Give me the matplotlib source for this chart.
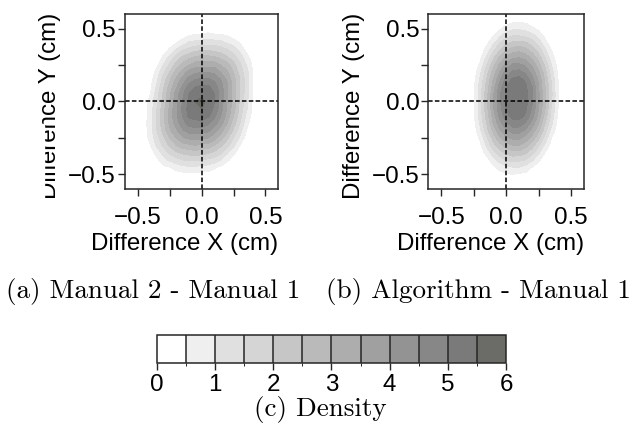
import numpy as np
import matplotlib
matplotlib.use("Agg")
import matplotlib.pyplot as plt
from matplotlib.colors import ListedColormap, BoundaryNorm
from matplotlib.patches import Rectangle

# grid of the density estimates (cm)
grid_x = [-0.45, -0.4, -0.35, -0.3, -0.25, -0.2, -0.15, -0.1, -0.05, 0.0,
          0.05, 0.1, 0.15, 0.2, 0.25, 0.3, 0.35, 0.4, 0.45, 0.5]
grid_y = [-0.6, -0.55, -0.5, -0.45, -0.4, -0.35, -0.3, -0.25, -0.2, -0.15, -0.1, -0.05,
          0.0, 0.05, 0.1, 0.15, 0.2, 0.25, 0.3, 0.35, 0.4, 0.45, 0.5, 0.55, 0.6]

# density x10, one row per grid_y value
dens_a = [
    [0, 0, 0, 0, 0, 0, 0, 0, 0, 0, 0, 0, 0, 0, 0, 0, 0, 0, 0, 0],
    [0, 0, 0, 0, 0, 1, 1, 1, 1, 1, 0, 0, 0, 0, 0, 0, 0, 0, 0, 0],
    [0, 0, 0, 1, 2, 3, 3, 4, 4, 3, 3, 2, 1, 0, 0, 0, 0, 0, 0, 0],
    [0, 0, 2, 4, 5, 7, 9, 9, 9, 9, 8, 6, 4, 2, 1, 0, 0, 0, 0, 0],
    [0, 1, 4, 8, 11, 13, 15, 16, 16, 15, 14, 13, 10, 6, 3, 1, 0, 0, 0, 0],
    [1, 3, 7, 12, 16, 19, 21, 22, 23, 22, 21, 19, 16, 11, 6, 3, 1, 0, 0, 0],
    [1, 5, 11, 16, 21, 25, 28, 29, 30, 29, 28, 25, 21, 17, 11, 5, 1, 0, 0, 0],
    [2, 7, 13, 19, 25, 30, 34, 36, 36, 36, 35, 32, 27, 21, 15, 9, 3, 1, 0, 0],
    [2, 8, 15, 22, 29, 34, 39, 42, 43, 42, 41, 37, 32, 26, 19, 12, 5, 1, 0, 0],
    [3, 8, 16, 23, 31, 37, 43, 47, 48, 48, 46, 42, 37, 30, 22, 15, 7, 2, 0, 0],
    [2, 8, 16, 24, 32, 39, 45, 51, 52, 53, 51, 46, 40, 33, 25, 17, 9, 3, 0, 0],
    [2, 7, 15, 23, 31, 39, 46, 52, 54, 55, 53, 49, 42, 34, 27, 18, 11, 4, 1, 0],
    [2, 7, 14, 22, 30, 38, 45, 51, 55, 56, 54, 50, 43, 35, 28, 19, 12, 4, 1, 0],
    [1, 5, 13, 21, 29, 37, 44, 50, 54, 54, 53, 50, 43, 36, 28, 20, 12, 5, 1, 0],
    [1, 4, 11, 19, 27, 34, 41, 47, 50, 51, 51, 48, 42, 36, 28, 20, 13, 5, 1, 0],
    [0, 3, 9, 17, 24, 31, 37, 42, 45, 46, 46, 44, 40, 34, 27, 20, 13, 5, 1, 0],
    [0, 2, 7, 14, 20, 27, 32, 37, 39, 40, 40, 39, 35, 31, 25, 18, 12, 5, 1, 0],
    [0, 1, 4, 10, 16, 22, 27, 30, 33, 33, 33, 33, 30, 27, 22, 16, 10, 4, 1, 0],
    [0, 0, 2, 6, 12, 17, 21, 24, 26, 27, 27, 26, 24, 21, 17, 13, 7, 3, 0, 0],
    [0, 0, 1, 3, 6, 11, 15, 17, 19, 20, 20, 19, 18, 16, 13, 9, 4, 1, 0, 0],
    [0, 0, 0, 1, 3, 5, 8, 11, 12, 13, 13, 13, 12, 10, 8, 5, 2, 1, 0, 0],
    [0, 0, 0, 0, 1, 2, 3, 5, 6, 6, 7, 6, 6, 5, 3, 2, 1, 0, 0, 0],
    [0, 0, 0, 0, 0, 0, 1, 1, 2, 2, 2, 2, 2, 1, 1, 0, 0, 0, 0, 0],
    [0, 0, 0, 0, 0, 0, 0, 0, 0, 0, 0, 0, 0, 0, 0, 0, 0, 0, 0, 0],
    [0, 0, 0, 0, 0, 0, 0, 0, 0, 0, 0, 0, 0, 0, 0, 0, 0, 0, 0, 0],
]

dens_b = [
    [0, 0, 0, 0, 0, 0, 0, 0, 0, 0, 0, 0, 0, 0, 0, 0, 0, 0, 0, 0],
    [0, 0, 0, 0, 0, 0, 0, 0, 0, 1, 1, 1, 0, 0, 0, 0, 0, 0, 0, 0],
    [0, 0, 0, 0, 0, 0, 0, 1, 3, 4, 5, 4, 4, 2, 1, 0, 0, 0, 0, 0],
    [0, 0, 0, 0, 0, 0, 1, 4, 7, 9, 10, 10, 8, 5, 3, 1, 0, 0, 0, 0],
    [0, 0, 0, 0, 0, 1, 3, 8, 12, 15, 17, 16, 15, 11, 6, 2, 0, 0, 0, 0],
    [0, 0, 0, 0, 0, 2, 7, 13, 18, 21, 23, 23, 21, 17, 11, 5, 1, 0, 0, 0],
    [0, 0, 0, 0, 1, 4, 11, 18, 23, 28, 30, 30, 27, 22, 16, 9, 3, 0, 0, 0],
    [0, 0, 0, 0, 1, 6, 14, 22, 29, 34, 36, 36, 33, 28, 21, 13, 5, 1, 0, 0],
    [0, 0, 0, 0, 2, 9, 18, 26, 34, 39, 42, 42, 39, 33, 26, 17, 8, 2, 0, 0],
    [0, 0, 0, 0, 3, 11, 20, 30, 38, 44, 48, 48, 44, 38, 30, 20, 11, 3, 0, 0],
    [0, 0, 0, 0, 4, 12, 22, 32, 41, 48, 52, 52, 49, 42, 33, 23, 13, 4, 0, 0],
    [0, 0, 0, 0, 4, 13, 23, 34, 43, 50, 54, 54, 51, 44, 35, 25, 14, 5, 1, 0],
    [0, 0, 0, 0, 4, 13, 24, 34, 44, 51, 54, 54, 52, 46, 36, 26, 15, 5, 1, 0],
    [0, 0, 0, 0, 4, 13, 23, 34, 44, 51, 54, 54, 52, 46, 36, 26, 16, 5, 1, 0],
    [0, 0, 0, 0, 4, 12, 22, 32, 42, 50, 53, 53, 51, 45, 35, 25, 15, 5, 1, 0],
    [0, 0, 0, 0, 3, 11, 20, 30, 39, 47, 51, 52, 49, 42, 34, 24, 14, 5, 1, 0],
    [0, 0, 0, 0, 2, 9, 18, 27, 35, 42, 46, 47, 44, 38, 31, 22, 12, 4, 0, 0],
    [0, 0, 0, 0, 1, 6, 15, 23, 31, 37, 41, 41, 39, 34, 27, 19, 10, 3, 0, 0],
    [0, 0, 0, 0, 0, 4, 11, 19, 26, 31, 34, 35, 33, 29, 23, 15, 7, 2, 0, 0],
    [0, 0, 0, 0, 0, 2, 7, 14, 20, 25, 28, 29, 27, 23, 18, 11, 5, 1, 0, 0],
    [0, 0, 0, 0, 0, 1, 4, 9, 15, 19, 21, 22, 21, 18, 13, 7, 2, 0, 0, 0],
    [0, 0, 0, 0, 0, 0, 1, 5, 9, 13, 15, 15, 14, 12, 8, 4, 1, 0, 0, 0],
    [0, 0, 0, 0, 0, 0, 0, 2, 4, 7, 9, 9, 8, 6, 4, 1, 0, 0, 0, 0],
    [0, 0, 0, 0, 0, 0, 0, 0, 1, 3, 4, 4, 4, 2, 1, 0, 0, 0, 0, 0],
    [0, 0, 0, 0, 0, 0, 0, 0, 0, 0, 1, 1, 1, 0, 0, 0, 0, 0, 0, 0],
]

captions = ["(a) Manual 2 - Manual 1", "(b) Algorithm - Manual 1", "(c) Density"]
levels = np.arange(0, 6.01, 0.5)
cols = ["#ffffff", "#efefef", "#e0e0e0", "#d4d5d4", "#c6c6c6", "#b9bab9",
        "#adadad", "#a0a0a0", "#939393", "#878787", "#7a7a7a", "#6b6b68"]
ticks = [-0.5, -0.25, 0, 0.25, 0.5]
tick_labels = ["\u22120.5", "", "0.0", "", "0.5"]

cmap = ListedColormap(cols)
norm = BoundaryNorm(levels, cmap.N)

plt.rcParams['font.family'] = ['Liberation Sans', 'DejaVu Sans']
fs = 17.4
dark = "#262626"

fig = plt.figure(figsize=(6.4, 4.33), dpi=100)
panels = [(dens_a, [0.1953, 0.5635, 0.2395, 0.4042]),
          (dens_b, [0.6692, 0.5635, 0.2433, 0.4042])]
for dens, rect in panels:
    ax = fig.add_axes(rect)
    ax.contourf(grid_x, grid_y, np.array(dens) / 10.0, levels=levels, cmap=cmap, norm=norm)
    ax.axhline(0, color="k", ls=(0, (3, 1.5)), lw=1.1)
    ax.axvline(0, color="k", ls=(0, (3, 1.5)), lw=1.1)
    ax.set_xlim(-0.6, 0.6)
    ax.set_ylim(-0.6, 0.6)
    ax.set_xticks(ticks, tick_labels)
    ax.set_yticks(ticks, tick_labels)
    ax.tick_params(axis="both", length=5, width=1, labelsize=fs, color=dark)
    ax.tick_params(axis="x", pad=8)
    ax.tick_params(axis="y", pad=1.5)
    for s in ax.spines.values():
        s.set_linewidth(1.1)
        s.set_color(dark)
    ax.set_xlabel("Difference X (cm)", fontsize=fs, loc="right", labelpad=3)
    ax.set_ylabel("Difference Y (cm)", fontsize=fs, labelpad=5)
    ax.yaxis.label.set_y(0.474)

cax = fig.add_axes([0.2453, 0.1617, 0.5453, 0.0647])
sm = plt.cm.ScalarMappable(norm=norm, cmap=cmap)
cb = fig.colorbar(sm, cax=cax, orientation="horizontal", drawedges=True, ticks=range(7))
cb.outline.set_linewidth(1.1)
cb.outline.set_edgecolor(dark)
cb.dividers.set_color(dark)
cb.dividers.set_linewidth(1.1)
cax.tick_params(length=5, width=1, labelsize=fs, pad=3, color=dark)

cap = dict(family="cmr10", fontsize=19.5, ha="center", va="baseline")
fig.text(153.5 / 640, 1 - 298 / 433, captions[0], **cap)
fig.text(478.5 / 640, 1 - 298 / 433, captions[1], **cap)
fig.text(320.5 / 640, 1 - 416 / 433, captions[2], **cap)

# the left label of panel (a) is trimmed in the original
fig.patches.append(Rectangle((0, 1 - 215 / 433), 44 / 640, 91 / 433,
                             transform=fig.transFigure, color="white", zorder=10))

fig.savefig("out.png")
